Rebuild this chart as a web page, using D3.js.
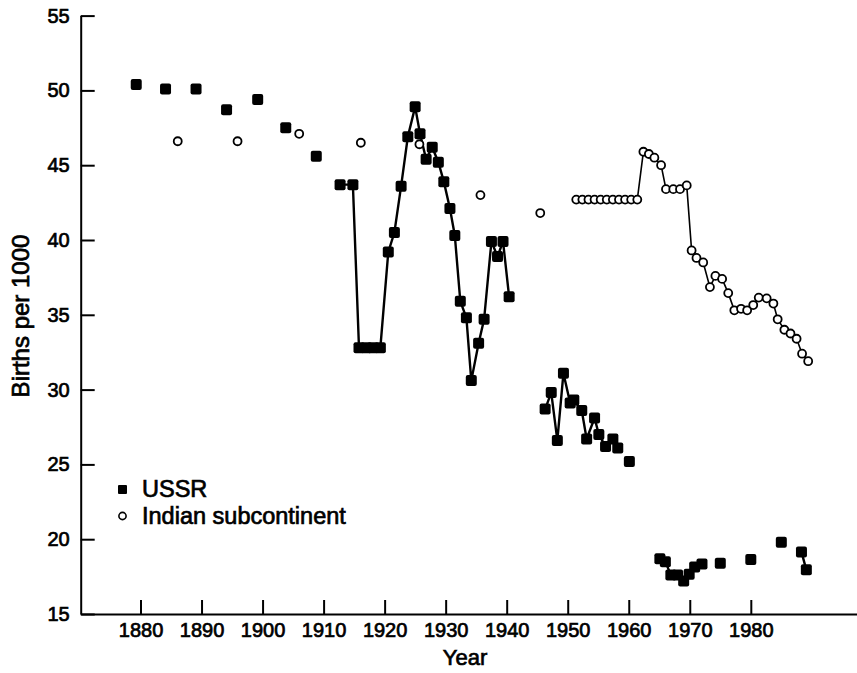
<!DOCTYPE html>
<html>
  <head>
    <title>birth rates</title>
    <meta charset="utf-8" />
    <script src="https://d3js.org/d3.v7.min.js"></script>
    <style>
      body { margin: 0; background: #fff; }
      text { font-family: "Liberation Sans", Arial, sans-serif; fill: #000; }
    </style>
  </head>
  <body>
    <script>
      // tick labels
      const xTicks = [1880, 1890, 1900, 1910, 1920, 1930, 1940, 1950, 1960, 1970, 1980];
      const yTicks = [15, 20, 25, 30, 35, 40, 45, 50, 55];

      // USSR - scattered early estimates (not joined)
      const ussrEarlyYears = [1879.3, 1884.1, 1889.1, 1894.1, 1899.2, 1903.8, 1908.8];
      const ussrEarlyRates = [50.4, 50.1, 50.1, 48.7, 49.4, 47.5, 45.6];

      // USSR 1913-1940, joined
      const ussrWarYears = [1912.7, 1914.8, 1915.8, 1917, 1918.1, 1919.3, 1920.6, 1921.6, 1922.7,
        1923.8, 1925, 1925.8, 1926.8, 1927.8, 1928.8, 1929.7, 1930.7, 1931.5, 1932.4, 1933.4,
        1934.2, 1935.4, 1936.3, 1937.5, 1938.5, 1939.4, 1940.4];
      const ussrWarRates = [43.7, 43.7, 32.8, 32.8, 32.8, 32.8, 39.2, 40.5, 43.6,
        46.9, 48.9, 47.1, 45.4, 46.2, 45.2, 43.9, 42.1, 40.3, 35.9, 34.8,
        30.6, 33.1, 34.7, 39.9, 38.9, 39.9, 36.2];

      // USSR post-war, joined
      const ussrPostYears = [1946.3, 1947.3, 1948.3, 1949.3, 1950.4, 1951.0, 1952.3, 1953.1,
        1954.4, 1955.1, 1956.2, 1957.4, 1958.2];
      const ussrPostRates = [28.7, 29.8, 26.6, 31.1, 29.1, 29.3, 28.6, 26.7,
        28.1, 27.0, 26.2, 26.7, 26.1];

      // USSR 1965-1972, joined
      const ussrLateYears = [1965.1, 1966.0, 1966.9, 1968.0, 1969.0, 1969.9, 1970.8, 1972.0];
      const ussrLateRates = [18.7, 18.5, 17.6, 17.6, 17.2, 17.65, 18.15, 18.35];

      // USSR single points
      const ussrLoneYears = [1960.1, 1975.0, 1980.0, 1985.0];
      const ussrLoneRates = [25.2, 18.4, 18.65, 19.8];

      // USSR last pair, joined
      const ussrEndYears = [1988.3, 1989.1];
      const ussrEndRates = [19.15, 17.95];

      // Indian subcontinent - early estimates (not joined)
      const indiaEarlyYears = [1886.1, 1895.9, 1906.0, 1916.1, 1925.7, 1935.7, 1945.5];
      const indiaEarlyRates = [46.6, 46.6, 47.1, 46.5, 46.4, 43.0, 41.8];

      // Indian subcontinent 1951-1989, joined
      const indiaYears = [1951.4, 1952.4, 1953.4, 1954.4, 1955.4, 1956.4, 1957.4, 1958.4,
        1959.4, 1960.4, 1961.4, 1962.4, 1963.3, 1964.2, 1965.3, 1966.1, 1967.3, 1968.4,
        1969.5, 1970.3, 1971.1, 1972.2, 1973.3, 1974.2, 1975.3, 1976.3, 1977.3, 1978.4,
        1979.4, 1980.4, 1981.3, 1982.6, 1983.7, 1984.4, 1985.5, 1986.5, 1987.5, 1988.4, 1989.4];
      const indiaRates = [42.7, 42.7, 42.7, 42.7, 42.7, 42.7, 42.7, 42.7,
        42.7, 42.7, 42.7, 45.9, 45.75, 45.5, 45.0, 43.4, 43.4, 43.4,
        43.65, 39.3, 38.8, 38.5, 36.85, 37.6, 37.4, 36.45, 35.3, 35.4,
        35.3, 35.65, 36.15, 36.1, 35.75, 34.7, 34.0, 33.75, 33.4, 32.4, 31.9];

      const width = 857, height = 673;

      const svg = d3.select("body").append("svg")
        .attr("width", width)
        .attr("height", height);

      const x = d3.scaleLinear().domain([1870.2, 1997.4]).range([80.7, 857]);
      const y = d3.scaleLinear().domain([15, 55]).range([614, 15.6]);

      const zip = (xs, ys) => xs.map((d, i) => [d, ys[i]]);

      // axes - ticks point into the plot
      const xAxis = svg.append("g")
        .attr("transform", `translate(0,${y(15)})`)
        .call(d3.axisBottom(x).tickValues(xTicks).tickFormat(d3.format("d"))
          .tickSizeInner(-14).tickSizeOuter(0).tickPadding(9));
      const yAxis = svg.append("g")
        .attr("transform", `translate(${x(1870.2)},0)`)
        .call(d3.axisLeft(y).tickValues(yTicks)
          .tickSizeInner(-14).tickSizeOuter(0).tickPadding(11));

      [xAxis, yAxis].forEach((g) => {
        g.select(".domain").attr("stroke", "#000").attr("stroke-width", 2);
        g.selectAll(".tick line").attr("stroke", "#000").attr("stroke-width", 2);
        g.selectAll(".tick text")
          .style("font-size", "20px")
          .attr("fill", "#000")
          .attr("stroke", "#000").attr("stroke-width", 0.7);
      });

      // axis titles
      svg.append("text")
        .attr("x", 465).attr("y", 665)
        .attr("text-anchor", "middle")
        .style("font-size", "22px")
        .attr("stroke", "#000").attr("stroke-width", 0.7)
        .text("Year");

      svg.append("text")
        .attr("transform", "translate(29,316) rotate(-90)")
        .attr("text-anchor", "middle")
        .style("font-size", "24px")
        .attr("stroke", "#000").attr("stroke-width", 0.7)
        .text("Births per 1000");

      const line = d3.line().x((d) => x(d[0])).y((d) => y(d[1]));

      // joined segments
      [zip(ussrWarYears, ussrWarRates), zip(ussrPostYears, ussrPostRates),
       zip(ussrLateYears, ussrLateRates), zip(ussrEndYears, ussrEndRates)].forEach((seg) => {
        svg.append("path").datum(seg)
          .attr("d", line)
          .attr("fill", "none")
          .attr("stroke", "#000")
          .attr("stroke-width", 2.4);
      });

      svg.append("path").datum(zip(indiaYears, indiaRates))
        .attr("d", line)
        .attr("fill", "none")
        .attr("stroke", "#000")
        .attr("stroke-width", 1.6);

      // markers
      const ussrAll = [].concat(
        zip(ussrEarlyYears, ussrEarlyRates), zip(ussrWarYears, ussrWarRates),
        zip(ussrPostYears, ussrPostRates), zip(ussrLateYears, ussrLateRates),
        zip(ussrLoneYears, ussrLoneRates), zip(ussrEndYears, ussrEndRates));
      const indiaAll = [].concat(zip(indiaEarlyYears, indiaEarlyRates), zip(indiaYears, indiaRates));

      const sq = 11;
      svg.selectAll(".ussr").data(ussrAll).join("rect")
        .attr("class", "ussr")
        .attr("x", (d) => x(d[0]) - sq / 2)
        .attr("y", (d) => y(d[1]) - sq / 2)
        .attr("width", sq).attr("height", sq)
        .attr("rx", 2)
        .attr("fill", "#000");

      svg.selectAll(".india").data(indiaAll).join("circle")
        .attr("class", "india")
        .attr("cx", (d) => x(d[0]))
        .attr("cy", (d) => y(d[1]))
        .attr("r", 4)
        .attr("fill", "#fff")
        .attr("stroke", "#000")
        .attr("stroke-width", 1.8);

      // legend
      const legend = svg.append("g");
      legend.append("rect")
        .attr("x", 118).attr("y", 485).attr("width", 9).attr("height", 9)
        .attr("rx", 1).attr("fill", "#000");
      legend.append("circle")
        .attr("cx", 122.5).attr("cy", 516).attr("r", 3.6)
        .attr("fill", "#fff").attr("stroke", "#000").attr("stroke-width", 1.6);
      legend.append("text")
        .attr("x", 142).attr("y", 497)
        .style("font-size", "23.5px")
        .attr("stroke", "#000").attr("stroke-width", 0.7)
        .text("USSR");
      legend.append("text")
        .attr("x", 142).attr("y", 524)
        .style("font-size", "23.5px")
        .attr("stroke", "#000").attr("stroke-width", 0.7)
        .text("Indian subcontinent");
    </script>
  </body>
</html>
